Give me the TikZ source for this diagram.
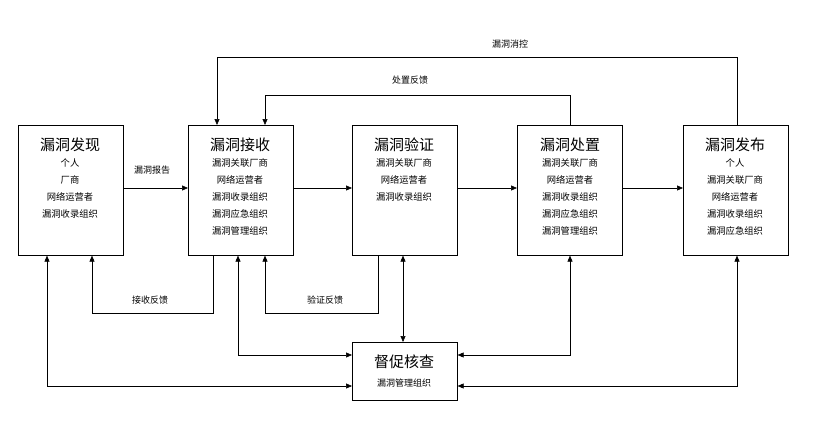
\documentclass[tikz,border=0pt]{standalone}
\usepackage{fontspec}
\setmainfont{Noto Sans CJK SC}
\usetikzlibrary{arrows.meta}
\begin{document}
\begin{tikzpicture}[x=1pt,y=-1pt,
  box/.style={draw,line width=0.6pt,minimum width=105pt,minimum height=130pt,anchor=north west,inner sep=0pt},
  sbox/.style={draw,line width=0.6pt,minimum width=105pt,minimum height=58pt,anchor=north west,inner sep=0pt},
  ar/.style={line width=0.6pt,-{Triangle[length=6pt,width=5pt]}},
  dar/.style={line width=0.6pt,{Triangle[length=6pt,width=5pt]}-{Triangle[length=6pt,width=5pt]}},
  lbl/.style={font=\fontsize{9}{10}\selectfont},
  tt/.style={font=\fontsize{15}{18}\selectfont},
  it/.style={font=\fontsize{9.3}{17}\selectfont,align=center}]
\useasboundingbox (0,0) rectangle (817,428);
\node[box] (b1) at (18,125) {};
\node[box] (b2) at (188,125) {};
\node[box] (b3) at (352,125) {};
\node[box] (b4) at (517,125) {};
\node[box] (b5) at (683,125) {};
\node[sbox] (b6) at (352,342) {};
\node[tt] at (70,145) {漏洞发现};
\node[it,anchor=north] at (70,155) {个人\\厂商\\网络运营者\\漏洞收录组织};
\node[tt] at (240,145) {漏洞接收};
\node[it,anchor=north] at (240,155) {漏洞关联厂商\\网络运营者\\漏洞收录组织\\漏洞应急组织\\漏洞管理组织};
\node[tt] at (404,145) {漏洞验证};
\node[it,anchor=north] at (404,155) {漏洞关联厂商\\网络运营者\\漏洞收录组织};
\node[tt] at (570,145) {漏洞处置};
\node[it,anchor=north] at (570,155) {漏洞关联厂商\\网络运营者\\漏洞收录组织\\漏洞应急组织\\漏洞管理组织};
\node[tt] at (735,145) {漏洞发布};
\node[it,anchor=north] at (735,155) {个人\\漏洞关联厂商\\网络运营者\\漏洞收录组织\\漏洞应急组织};
\node[tt] at (404,362) {督促核查};
\node[lbl] at (404,383) {漏洞管理组织};
\draw[ar] (b1.east |- 0,188) -- (b2.west |- 0,188);
\node[lbl] at (152,170) {漏洞报告};
\draw[ar] (b2.east |- 0,188) -- (b3.west |- 0,188);
\draw[ar] (b3.east |- 0,188) -- (b4.west |- 0,188);
\draw[ar] (b4.east |- 0,188) -- (b5.west |- 0,188);
\draw[ar] (b5.north -| 737,0) |- (217,57) -- (b2.north -| 217,0);
\node[lbl] at (510,44) {漏洞消控};
\draw[ar] (b4.north -| 570,0) |- (265,95) -- (b2.north -| 265,0);
\node[lbl] at (410,80) {处置反馈};
\draw[ar] (b2.south -| 213,0) |- (92,313) -- (b1.south -| 92,0);
\node[lbl] at (150,300) {接收反馈};
\draw[ar] (b3.south -| 378,0) |- (265,313) -- (b2.south -| 265,0);
\node[lbl] at (325,300) {验证反馈};
\draw[dar] (b3.south -| 403,0) -- (b6.north -| 403,0);
\draw[dar] (b2.south -| 238,0) |- (b6.west |- 0,355);
\draw[dar] (b1.south -| 47,0) |- (b6.west |- 0,386);
\draw[dar] (b4.south -| 570,0) |- (b6.east |- 0,355);
\draw[dar] (b5.south -| 737,0) |- (b6.east |- 0,386);
\end{tikzpicture}
\end{document}
